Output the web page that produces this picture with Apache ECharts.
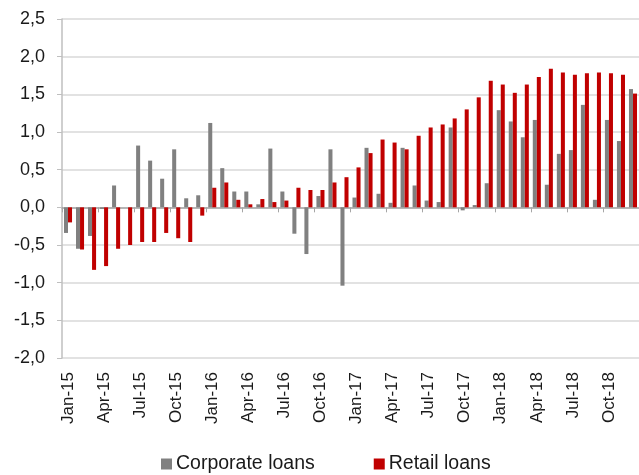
<!DOCTYPE html>
<html>
<head>
<meta charset="utf-8">
<script src="https://cdn.jsdelivr.net/npm/echarts@6/dist/echarts.min.js"></script>
<style>
  html, body { margin: 0; padding: 0; background: #fff; }
  #chart { width: 639px; height: 475px; }
</style>
</head>
<body>
<div id="chart"></div>
<script>
const months = [
  'Jan-15', 'Feb-15', 'Mar-15', 'Apr-15', 'May-15', 'Jun-15', 'Jul-15', 'Aug-15', 'Sep-15', 'Oct-15', 'Nov-15', 'Dec-15',
  'Jan-16', 'Feb-16', 'Mar-16', 'Apr-16', 'May-16', 'Jun-16', 'Jul-16', 'Aug-16', 'Sep-16', 'Oct-16', 'Nov-16', 'Dec-16',
  'Jan-17', 'Feb-17', 'Mar-17', 'Apr-17', 'May-17', 'Jun-17', 'Jul-17', 'Aug-17', 'Sep-17', 'Oct-17', 'Nov-17', 'Dec-17',
  'Jan-18', 'Feb-18', 'Mar-18', 'Apr-18', 'May-18', 'Jun-18', 'Jul-18', 'Aug-18', 'Sep-18', 'Oct-18', 'Nov-18', 'Dec-18'
]

// corporate loans (grey)
const corporate = [
  -0.34, -0.55, -0.38, -0.02, 0.29, 0.00, 0.82, 0.62, 0.38, 0.77, 0.12, 0.16,
  1.12, 0.52, 0.21, 0.21, 0.04, 0.78, 0.21, -0.35, -0.62, 0.15, 0.77, -1.04,
  0.13, 0.79, 0.18, 0.06, 0.79, 0.29, 0.09, 0.07, 1.06, -0.04, 0.03, 0.32,
  1.29, 1.14, 0.93, 1.16, 0.30, 0.71, 0.76, 1.36, 0.10, 1.16, 0.88, 1.57
]

// retail loans (red)
const retail = [
  -0.20, -0.56, -0.83, -0.78, -0.55, -0.50, -0.46, -0.46, -0.34, -0.41, -0.46, -0.11,
  0.26, 0.33, 0.10, 0.04, 0.11, 0.07, 0.09, 0.26, 0.23, 0.23, 0.33, 0.40,
  0.53, 0.72, 0.90, 0.86, 0.77, 0.95, 1.06, 1.10, 1.18, 1.30, 1.46, 1.68,
  1.63, 1.52, 1.63, 1.73, 1.84, 1.79, 1.76, 1.78, 1.79, 1.78, 1.76, 1.51
]

const font = 'Liberation Sans, Arial, sans-serif'

const c = echarts.init(document.getElementById('chart'))
c.setOption({
  animation: false,
  grid: { left: 62, top: 19, width: 580, height: 339 },
  legend: {
    top: 449, left: 156,
    icon: 'rect', itemWidth: 11, itemHeight: 11, itemGap: 59,
    textStyle: { fontFamily: font, fontSize: 19.5, color: '#1a1a1a', padding: [0, 0, 0, -1] },
    data: ['Corporate loans', 'Retail loans'],
  },
  xAxis: [
    {
      // zero line with ticks between quarters
      type: 'category', data: months,
      axisLine: { onZero: true, lineStyle: { color: '#a6a6a6', width: 1.5 } },
      axisTick: { show: true, interval: (i) => i % 3 === 0, length: 5, lineStyle: { color: '#a6a6a6' } },
      axisLabel: { show: false },
      splitLine: { show: false },
    },
    {
      // labels at the bottom
      type: 'category', data: months, position: 'bottom',
      axisLine: { show: false, onZero: false },
      axisTick: { show: false },
      axisLabel: {
        interval: 2, rotate: 90, margin: 14,
        fontFamily: font, fontSize: 17, color: '#1a1a1a',
      },
    },
  ],
  yAxis: {
    type: 'value', min: -2, max: 2.5, interval: 0.5,
    axisLine: { show: true, lineStyle: { color: '#bfbfbf', width: 1.5 } },
    axisTick: { show: true, length: 5, lineStyle: { color: '#bfbfbf' } },
    splitLine: { lineStyle: { color: '#d9d9d9', width: 1.5 } },
    axisLabel: {
      margin: 17, fontFamily: font, fontSize: 18, color: '#1a1a1a',
      formatter: (v) => v.toFixed(1).replace('.', ','),
    },
  },
  series: [
    {
      name: 'Corporate loans', type: 'bar', data: corporate,
      itemStyle: { color: '#808080' },
      barGap: '0%', barCategoryGap: '33%',
    },
    {
      name: 'Retail loans', type: 'bar', data: retail,
      itemStyle: { color: '#c00000' },
      barGap: '0%', barCategoryGap: '33%',
    },
  ],
})
</script>
</body>
</html>
